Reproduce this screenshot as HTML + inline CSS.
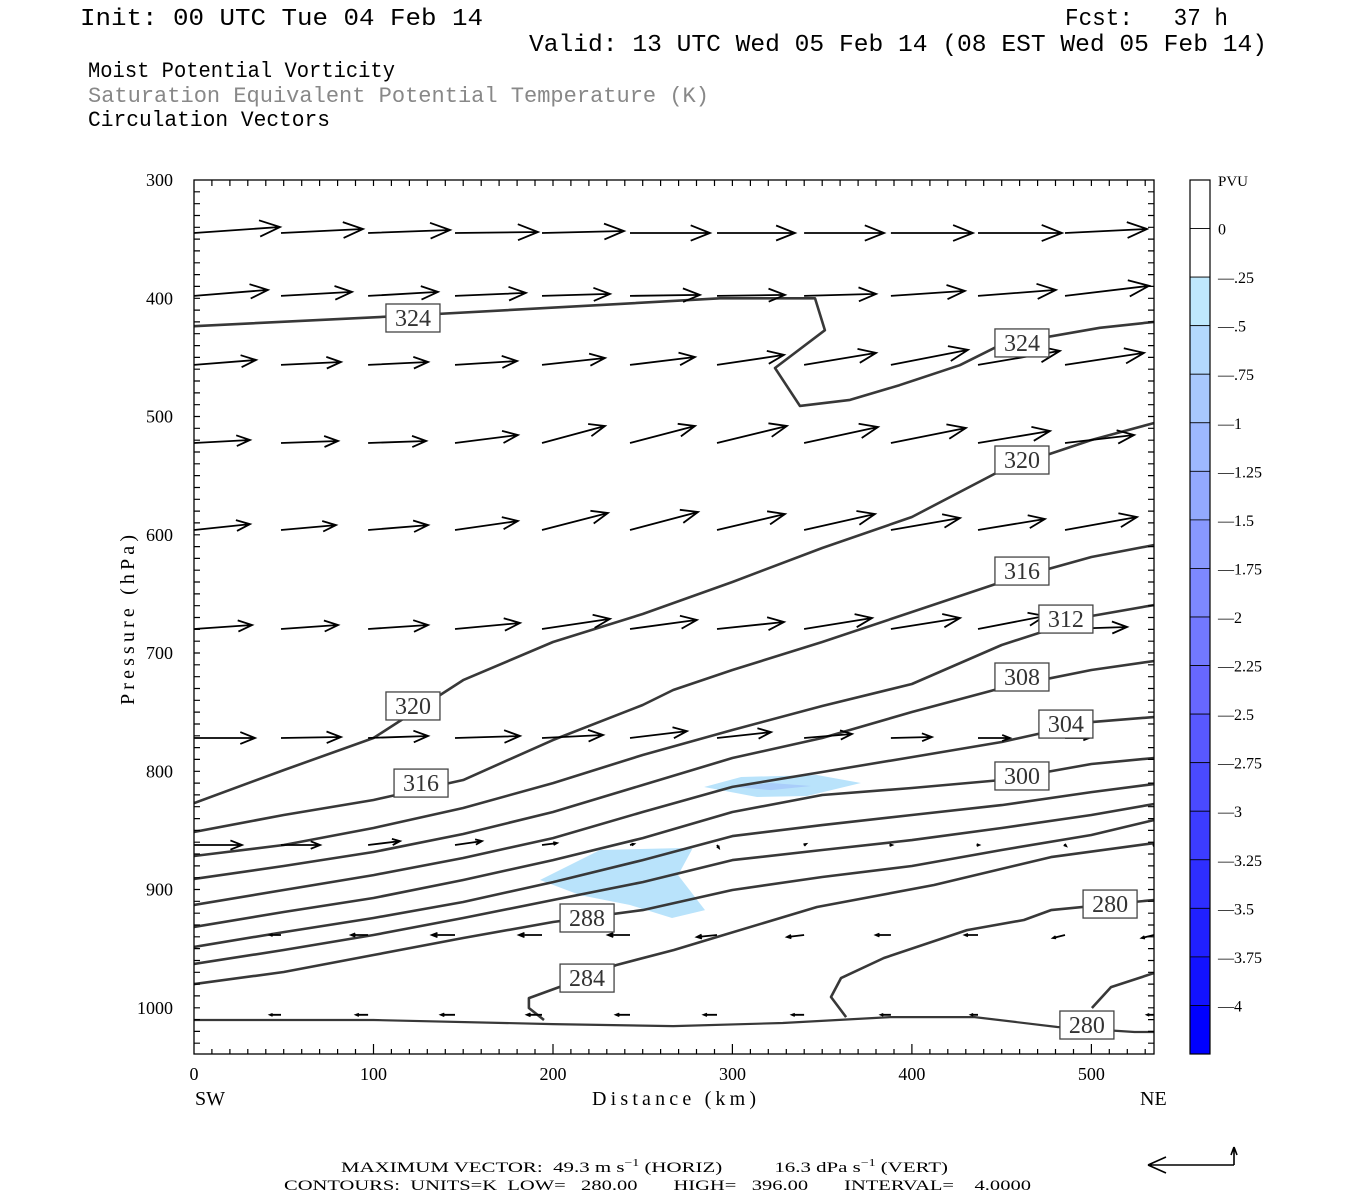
<!DOCTYPE html>
<html><head><meta charset="utf-8"><title>MPV cross section</title>
<style>
html,body{margin:0;padding:0;background:#fff;}
svg{display:block;}
text{font-family:"Liberation Serif",serif;white-space:pre;}
.mono{font-family:"Liberation Mono",monospace;}
</style></head>
<body>
<svg id="chart" width="1350" height="1200" viewBox="0 0 1350 1200" xmlns="http://www.w3.org/2000/svg" xml:space="preserve">
<rect x="0" y="0" width="1350" height="1200" fill="#fff"/>
<g>
<text class="mono" x="80" y="25" font-size="24" textLength="403" lengthAdjust="spacingAndGlyphs">Init: 00 UTC Tue 04 Feb 14</text>
<text class="mono" x="1065" y="25" font-size="24" textLength="163" lengthAdjust="spacingAndGlyphs">Fcst:   37 h</text>
<text class="mono" x="529" y="51" font-size="24" textLength="738" lengthAdjust="spacingAndGlyphs">Valid: 13 UTC Wed 05 Feb 14 (08 EST Wed 05 Feb 14)</text>
<text class="mono" x="88" y="77" font-size="22" textLength="307" lengthAdjust="spacingAndGlyphs">Moist Potential Vorticity</text>
<text class="mono" x="88" y="102" font-size="22" fill="#888" textLength="621" lengthAdjust="spacingAndGlyphs">Saturation Equivalent Potential Temperature (K)</text>
<text class="mono" x="88" y="126" font-size="22" textLength="242" lengthAdjust="spacingAndGlyphs">Circulation Vectors</text>
</g>
<defs><clipPath id="plotClip"><rect x="194" y="180" width="960" height="874"/></clipPath></defs>
<g id="shade" clip-path="url(#plotClip)"></g>
<g id="contours" clip-path="url(#plotClip)"></g>
<g id="vectors" clip-path="url(#plotClip)"></g>
<g id="labels"></g>
<g id="axes"></g>
<g id="cbar"></g>
<g>
<text x="341" y="1172" font-size="15" textLength="607" lengthAdjust="spacingAndGlyphs">MAXIMUM VECTOR:  49.3 m s<tspan font-size="10" dy="-6">−1</tspan><tspan dy="6"> (HORIZ)          16.3 dPa s</tspan><tspan font-size="10" dy="-6">−1</tspan><tspan dy="6"> (VERT)</tspan></text>
<text x="284" y="1190" font-size="15" textLength="747" lengthAdjust="spacingAndGlyphs">CONTOURS:  UNITS=K  LOW=   280.00       HIGH=   396.00       INTERVAL=    4.0000</text>
<g stroke="#000" stroke-width="1.6" fill="none">
<path d="M1234,1165 L1148,1165 M1148,1165 L1166,1157 M1148,1165 L1166,1173"/>
<path d="M1234,1165 L1234,1147 M1234,1147 L1231,1155 M1234,1147 L1237,1155"/>
</g>
</g>
</svg>
<script>
// ===== data =====
const contourLevels = [324, 320, 316, 312, 308, 304, 300, 296, 292, 288, 284, 280, 280, 280];
const contourKm = [
 [0,114.8,226,293,346,351.5,323.7,337.6,365.5,393,426.7,449,504.7,535],
 [0,50,100,150,200,250,300,350,400,450,500,535],
 [0,50,100,150,200,250,267,300,350,400,450,500,535],
 [0,50,100,150,200,250,300,350,400,450,500,535],
 [0,50,100,150,200,250,300,350,400,450,500,535],
 [0,50,100,150,200,250,300,350,400,450,500,535],
 [0,50,100,150,200,250,300,350,400,450,500,535],
 [0,50,100,150,200,250,300,350,400,450,500,535],
 [0,50,100,150,200,250,300,350,400,450,500,535],
 [0,50,100,150,200,250,300,350,400,450,500,535],
 [195,186.6,186.6,203.4,235.1,267.4,291.4,347.1,412.3,477.5,535],
 [363.3,354.9,360.5,384.4,430.7,462.4,477.5,535],
 [500.3,510.9,535],
 [0,100,200,267,328,388,435,481,524,535]
];
const contourHPa = [
 [423.6,415,405.8,400,400,427,459,491,486,473.5,456.6,439.7,425,420],
 [826.9,799,771.9,722.9,690.7,667,640,611.2,585,545.3,519.9,505.5],
 [851.4,837,824.3,807.4,773.6,744,731.3,714.4,690.7,665.3,640,618.8,608.7],
 [871.7,862.4,848,831.1,810,786.3,765.1,744.8,726.2,693.2,668.7,659.4],
 [891.1,880.1,868.3,853.1,834.5,811.6,788.8,771.9,749.9,729.6,714.4,706.8],
 [913.1,900.4,887.8,873.4,856.5,834.5,813.2,800.6,788,775.3,758.4,754.1],
 [931.7,919,907.2,892,875.1,856.5,834.5,820.1,814.2,807.4,793.9,788.8],
 [948.6,936,924.1,910.6,893.7,875.1,854.8,845.5,837,828.6,817.6,810.8],
 [963,951.2,938.5,924.1,908.9,893.7,875.1,866.6,858.2,848,837,827.7],
 [980,969.8,955.4,941,927.5,917.4,900.4,889.4,880.1,866.6,853.9,841.2],
 [1010.4,1000.2,991.8,982.5,963.9,951.2,940.2,914.8,896.2,872.6,860.8],
 [1007.9,990.9,974.9,957.9,934.3,925.8,917.4,908.9],
 [1000.2,982.5,970.6],
 [1010.4,1010.4,1013.8,1015.5,1012.9,1007.9,1007.9,1016.3,1020.5,1020.5]
];
const labelText = ["324","324","320","320","316","316","312","308","304","300","288","284","280","280"];
const labelKm = [122,461.3,122,461.3,126.5,461.3,485.8,461.3,485.8,461.3,219,219,510.4,497.5];
const labelHPa = [416.7,437.8,744.8,536.8,810,630.7,671.3,720.3,760.1,804,924.1,974.9,912.3,1014.6];

const shadeKm = [
 [192.8,226.2,273,277.7,269.7,284.7,266.3,242.9,215.1],
 [284.2,304.8,347.1,371.6,341.5,313.7],
 [300.9,321.5,343.8,321.5]
];
const shadeHPa = [
 [892,866.6,864.9,865.5,887.8,917.4,924.1,913.1,904.7],
 [813.3,804.9,803.2,809.9,820.9,821.8],
 [813.3,809.9,812.5,815.9]
];
const shadeColors = ["#b9e3fb","#b9e3fb","#a9cdfa"];

const vecRowHPa = [344.8,398,456.4,522.4,596,679.7,771.9,862.4,938.5,1006];
const vecColKm = [0,48.5,97,145.4,193.9,242.9,291.4,339.9,388.3,436.8,485.3,534.9];
const vecU = [
 [49.3,47,47,47.6,47,45.9,44.7,45.9,47,48.2,47,47],
 [42.4,40.7,40.1,40.7,39,40.1,39,41.3,42.4,44.7,48.2,48],
 [35.6,34.4,34.4,35.6,36.1,37.3,38.4,41.3,44.2,47,45.3,45],
 [32.1,32.7,33.3,36.1,36.1,37.3,40.1,42.4,43,41.3,39.6,39],
 [32.1,31.5,34.4,36.1,37.8,39,39,40.7,39.6,38.4,41.3,41],
 [33.3,32.7,34.4,37.3,39,38.4,38.4,39,39.6,38.4,35.6,35],
 [35,34.4,34.4,37.3,35,32.7,31,27.5,23.5,18.3,13.8,12],
 [27.5,22.4,18.3,15.5,8.6,2.3,1.1,1.1,0.6,0.6,0.6,0.6],
 [-1.1,-6.3,-9.7,-13.2,-13.2,-12.6,-11.5,-9.7,-8.6,-7.5,-6.9,-7],
 [0,-6.3,-6.9,-8,-8.6,-8,-7.5,-6.9,-5.7,-4,0,-4]
];
const vecW = [
 [-5.4,-3.6,-2.7,-0.9,-1.8,0,0,0,0,0,-3.6,-3],
 [-5.4,-3.6,-3.6,-2.7,-1.8,-0.9,-0.9,-1.8,-4.5,-5.4,-9.1,-9],
 [-4.5,-2.7,-2.7,-3.6,-6.3,-7.2,-9.1,-10.9,-13.6,-12.7,-10.9,-10],
 [-2.7,-1.8,-1.8,-7.2,-15.4,-15.4,-15.4,-14.5,-13.6,-10.9,-7.2,-7],
 [-5.4,-4.5,-4.5,-8.2,-15.4,-16.3,-14.5,-14.5,-10.9,-10,-11.8,-11],
 [-3.6,-3.6,-3.6,-5.4,-9.1,-8.2,-6.3,-10,-10,-11.8,-1.8,-2],
 [0,-0.9,-1.8,-1.8,-2.7,-6.3,-5.4,-3.6,-0.9,0,0,0],
 [0,0,-3.6,-3.6,-1.8,-0.9,2.7,-0.9,0,0,0.9,0],
 [0,0,0,0,0,0,1.8,1.8,0,0,2.7,2.7],
 [0,0,0,0,0,0,0,0,0,0,0,0]
];

const yTickValues = [300,400,500,600,700,800,900,1000];
const xTickValues = [0,100,200,300,400,500];
const cbarLabels = ["0","-.25","-.5","-.75","-1","-1.25","-1.5","-1.75","-2","-2.25","-2.5","-2.75","-3","-3.25","-3.5","-3.75","-4"];
const cbarColors = ["#ffffff","#ffffff","#bfe8fc","#b3d8fd","#a8c8fd","#9db8fe","#93a9fe","#8898ff","#7d88ff","#7278ff","#6767ff","#5858ff","#4a4aff","#3c3cff","#2e2eff","#2020ff","#1212ff","#0000ff"];

// ===== scales =====
const X0=194, X1=1154, Y0=180, Y1=1054;
const KM_MAX = (X1-X0)/1.7948;
const P_BOT = 300 + (Y1-Y0)/1.1825;
function xs(km){ return X0 + km*1.7948; }
function ys(p){ return Y0 + (p-300)*1.1825; }
const U_SCALE = 1.744, W_SCALE = 1.104;
const NS="http://www.w3.org/2000/svg";
function mk(tag, attrs, parent){
  const e=document.createElementNS(NS,tag);
  for(const k in attrs) e.setAttribute(k, attrs[k]);
  parent.appendChild(e); return e;
}

// shading
const gS=document.getElementById('shade');
shadeKm.forEach((ks,i)=>{
  const pts = ks.map((k,j)=>xs(k).toFixed(1)+','+ys(shadeHPa[i][j]).toFixed(1)).join(' ');
  const el=mk('polygon',{points:pts, fill:shadeColors[i], stroke:'none'},gS);
  
  
});

// contours
const gC=document.getElementById('contours');
contourKm.forEach((ks,i)=>{
  const d = ks.map((k,j)=>(j?'L':'M')+xs(k).toFixed(1)+','+ys(contourHPa[i][j]).toFixed(1)).join(' ');
  const el=mk('path',{d:d, fill:'none', stroke:'#383838', 'stroke-width':(i===13?2.2:2.6), 'stroke-linejoin':'round'},gC);
  
  
});

// vectors
const gV=document.getElementById('vectors');
vecRowHPa.forEach((p,r)=>{
  vecColKm.forEach((k,c)=>{
    const u=vecU[r][c], w=vecW[r][c];
    const x0=xs(k), y0=ys(p);
    const dx=u*U_SCALE, dy=w*W_SCALE;
    const len=Math.hypot(dx,dy);
    if(len<0.8) return;
    const x1=x0+dx, y1=y0+dy;
    const ang=Math.atan2(dy,dx);
    const h=Math.max(2.5, Math.min(22, len*0.26));
    const a1=ang+Math.PI-0.38, a2=ang+Math.PI+0.38;
    const d=`M${x0.toFixed(1)},${y0.toFixed(1)} L${x1.toFixed(1)},${y1.toFixed(1)} M${(x1+h*Math.cos(a1)).toFixed(1)},${(y1+h*Math.sin(a1)).toFixed(1)} L${x1.toFixed(1)},${y1.toFixed(1)} L${(x1+h*Math.cos(a2)).toFixed(1)},${(y1+h*Math.sin(a2)).toFixed(1)}`;
    const el=mk('path',{d:d, fill:'none', stroke:'#000', 'stroke-width':1.8},gV);
    
    
  });
});

// labels
const gL=document.getElementById('labels');
labelText.forEach((t,i)=>{
  const cx=xs(labelKm[i]), cy=ys(labelHPa[i]);
  const g=mk('g',{},gL);
  
  
  mk('rect',{x:cx-27,y:cy-14,width:54,height:28,fill:'#fff',stroke:'#444','stroke-width':1.3},g);
  const tx=mk('text',{x:cx,y:cy+8,'text-anchor':'middle','font-size':24,fill:'#333'},g);
  tx.textContent=t;
});

// axes
const gA=document.getElementById('axes');
mk('rect',{x:X0,y:Y0,width:X1-X0,height:Y1-Y0,fill:'none',stroke:'#000','stroke-width':1.3},gA);
let tk='';
for(let p=310;p<P_BOT;p+=10){ const y=ys(p).toFixed(1); tk+=`M${X0},${y} L${X0+6},${y} M${X1},${y} L${X1-6},${y} `; }
for(let k=10;k<KM_MAX;k+=10){ const x=xs(k).toFixed(1); const L=(k%100===0)?10:5; tk+=`M${x},${Y1} L${x},${Y1-L} M${x},${Y0} L${x},${Y0+6} `; }
const ticks=mk('path',{d:tk,stroke:'#000','stroke-width':1.2,fill:'none'},gA);


yTickValues.forEach(v=>{
  const t=mk('text',{x:173,y:ys(v)+6,'text-anchor':'end','font-size':18},gA);
  
  
  t.textContent=v;
});
xTickValues.forEach(v=>{
  const t=mk('text',{x:xs(v),y:1080,'text-anchor':'middle','font-size':18},gA);
  
  
  t.textContent=v;
});
const sw=mk('text',{x:195,y:1105,'font-size':20},gA); sw.textContent='SW';


const ne=mk('text',{x:1140,y:1105,'font-size':20},gA); ne.textContent='NE';


const xt=mk('text',{x:674,y:1105,'text-anchor':'middle','font-size':20,textLength:164},gA); xt.textContent='Distance (km)';


const yt=mk('text',{x:0,y:0,'text-anchor':'middle','font-size':20,textLength:170,transform:'translate(134,620) rotate(-90)'},gA); yt.textContent='Pressure (hPa)';



// colorbar
const gB=document.getElementById('cbar');
const bh=(Y1-Y0)/cbarColors.length;
cbarColors.forEach((c,i)=>{
  const r=mk('rect',{x:1190,y:Y0+i*bh,width:20,height:bh,fill:c,stroke:'#000','stroke-width':0.8},gB);
  
  
});
mk('rect',{x:1190,y:Y0,width:20,height:Y1-Y0,fill:'none',stroke:'#000','stroke-width':1.2},gB);
const pvu=mk('text',{x:1218,y:186,'font-size':15},gB); pvu.textContent='PVU';


cbarLabels.forEach((s,i)=>{
  const t=mk('text',{x:1218,y:Y0+(i+1)*bh+6,'font-size':16},gB);
  
  
  t.textContent=s.replace('-','\u2014');
});
</script>
</body></html>
